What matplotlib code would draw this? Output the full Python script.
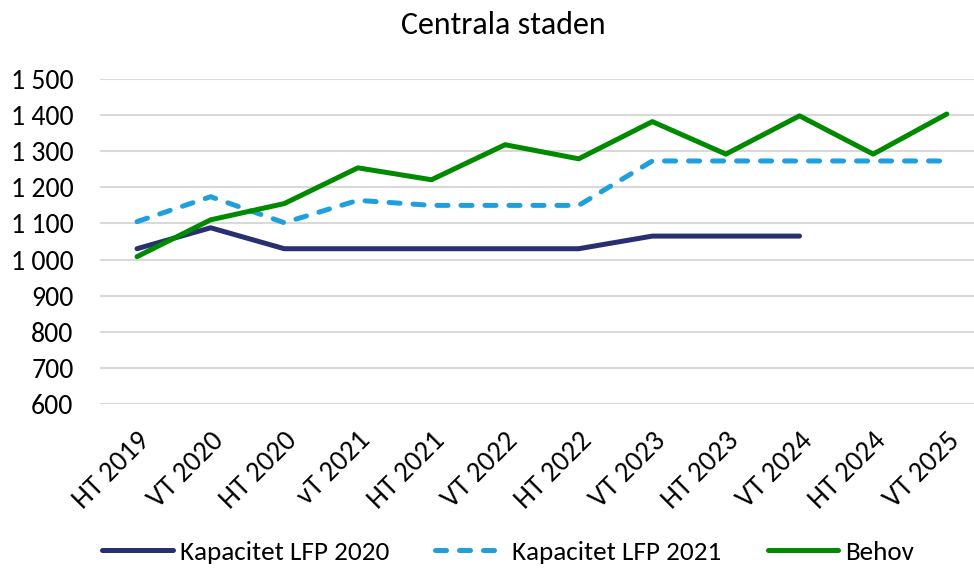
import matplotlib
matplotlib.use('Agg')
import matplotlib.pyplot as plt
from matplotlib.ticker import FuncFormatter

plt.rcParams['font.family'] = ['Carlito', 'Lato', 'DejaVu Sans']

# Terminer (x-axelns kategorier)
terms = ['HT 2019', 'VT 2020', 'HT 2020', 'vT 2021', 'HT 2021', 'VT 2022',
         'HT 2022', 'VT 2023', 'HT 2023', 'VT 2024', 'HT 2024', 'VT 2025']

# Serier
kap_2020 = [1030, 1088, 1030, 1030, 1030, 1030, 1030, 1065, 1065, 1065]
kap_2021 = [1105, 1174, 1102, 1164, 1150, 1150, 1150, 1273, 1273, 1273,
            1273, 1273]
behov = [1008, 1110, 1155, 1254, 1221, 1318, 1279, 1382, 1292, 1398,
         1292, 1403]

navy = '#283071'
blue = '#1fa0dc'
green = '#008a00'

fig = plt.figure(figsize=(9.74, 5.68), dpi=100)
ax = fig.add_axes([100 / 974, (568 - 404) / 568, 874 / 974, 325 / 568])

x = list(range(len(terms)))
ax.plot(x[:len(kap_2020)], kap_2020, color=navy, lw=3.6,
        solid_capstyle='round', label='Kapacitet LFP 2020')
ax.plot(x, kap_2021, color=blue, lw=3.6, dashes=(2.2, 2.6),
        dash_capstyle='round', label='Kapacitet LFP 2021')
ax.plot(x, behov, color=green, lw=3.6, solid_capstyle='round',
        label='Behov')

ax.set_ylim(600, 1500)
ax.set_yticks(range(600, 1501, 100))
ax.yaxis.set_major_formatter(
    FuncFormatter(lambda v, p: f'{v:,.0f}'.replace(',', ' ')))
ax.set_xlim(-0.503, 11.37)
ax.set_xticks(x)
ax.set_xticklabels(terms, rotation=45, ha='right', rotation_mode='anchor')

ax.grid(axis='y', color='#d9d9d9', lw=1.5)
ax.set_axisbelow(True)
for s in ax.spines.values():
    s.set_visible(False)
ax.tick_params(axis='y', length=0, labelsize=20, colors='black', pad=19)
ax.tick_params(axis='x', length=0, labelsize=20.5, colors='black', pad=17)

fig.text(503 / 974, 1 - 25 / 568, 'Centrala staden', ha='center',
         va='center', fontsize=23)

fig.legend(loc='center', bbox_to_anchor=(508 / 974, 1 - 552 / 568), ncol=3,
           frameon=False, fontsize=19.5, handlelength=2.6,
           handletextpad=0.25, columnspacing=1.7)

fig.savefig('out.png', dpi=100)
